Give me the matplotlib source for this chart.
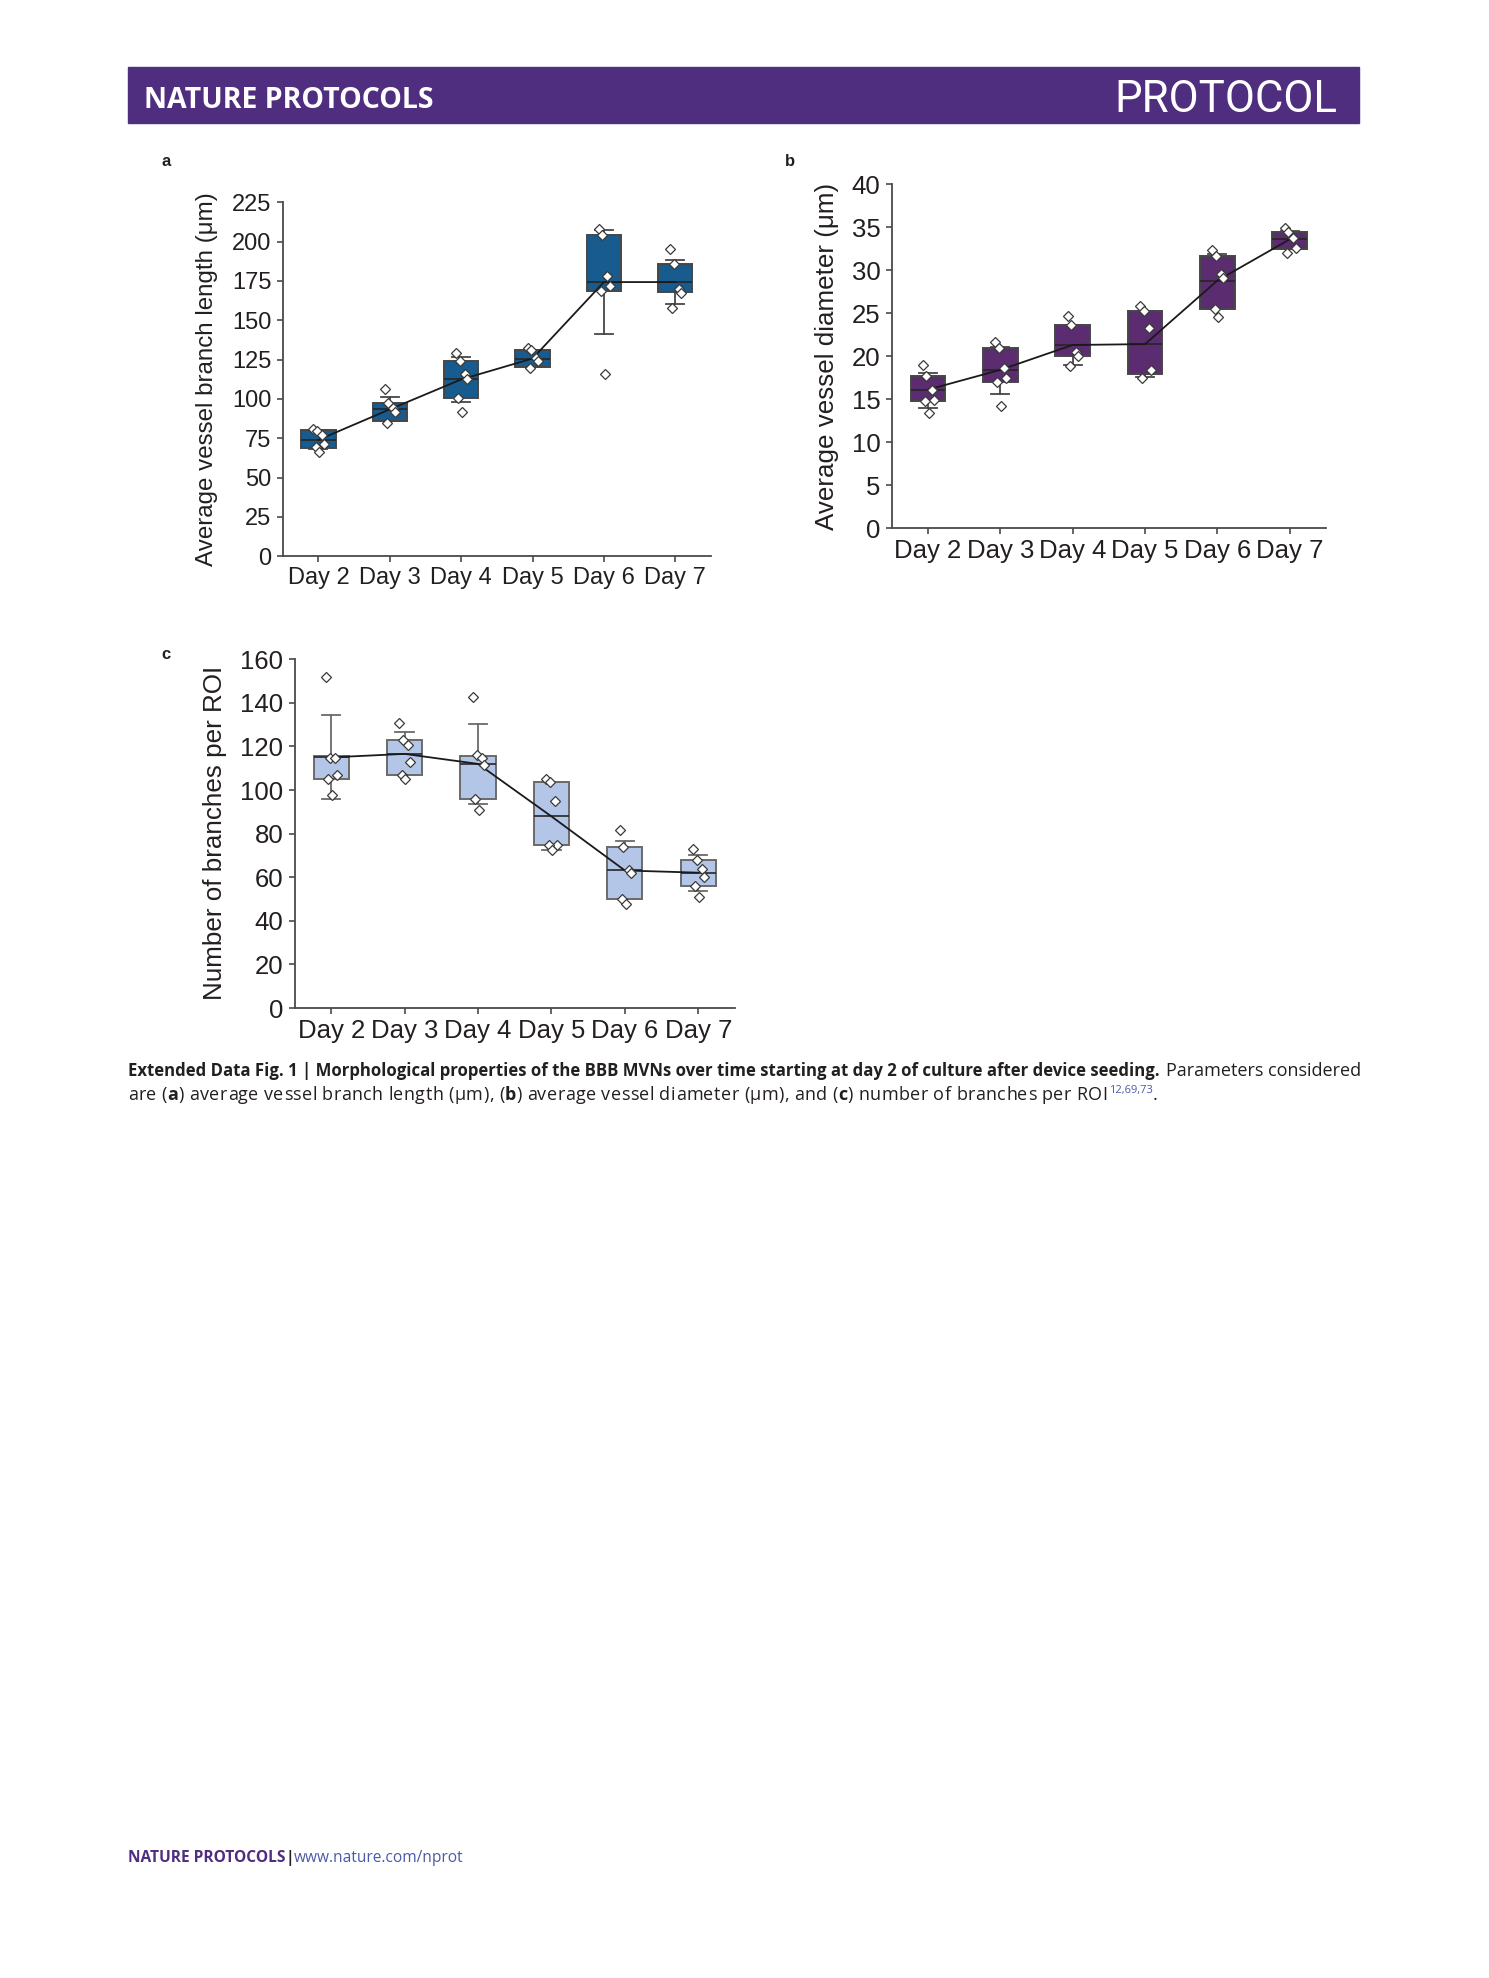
import matplotlib
matplotlib.use('Agg')
import matplotlib.pyplot as plt
from matplotlib.patches import Rectangle

plt.rcParams['font.family'] = ['Liberation Sans', 'DejaVu Sans']

W, H = 1489, 1978

days = ['Day 2', 'Day 3', 'Day 4', 'Day 5', 'Day 6', 'Day 7']

# panel a - average vessel branch length (um)
len_q1 = [69.1, 86.0, 100.4, 120.4, 168.6, 167.8]
len_med = [74.0, 93.4, 112.4, 125.7, 174.3, 174.3]
len_q3 = [80.3, 97.2, 124.0, 131.4, 204.3, 186.0]
len_lo = [68.0, 86.0, 98.0, 120.4, 141.2, 160.6]
len_hi = [80.3, 101.0, 126.8, 131.4, 207.5, 188.5]
len_pts = [[80.7, 79.7, 76.9, 71.4, 69.3, 66.3],
           [106.1, 97.2, 94.5, 91.7, 84.9],
           [129.5, 124.0, 115.8, 112.8, 100.4, 91.5],
           [132.7, 131.4, 126.3, 124.2, 120.0],
           [207.9, 204.5, 177.9, 171.6, 168.6, 115.8],
           [195.5, 186.0, 169.9, 167.3, 158.0]]

# panel b - average vessel diameter (um)
dia_q1 = [14.8, 17.0, 20.0, 17.9, 25.5, 32.5]
dia_med = [16.1, 18.4, 21.3, 21.4, 28.8, 33.6]
dia_q3 = [17.7, 21.0, 23.6, 25.3, 31.6, 34.4]
dia_lo = [14.0, 15.6, 18.95, 17.6, 25.5, 32.5]
dia_hi = [18.0, 21.05, 23.6, 25.3, 31.9, 34.6]
dia_pts = [[19.0, 17.7, 16.1, 14.9, 14.8, 13.4],
           [21.7, 21.0, 18.6, 17.5, 17.0, 14.2],
           [24.7, 23.6, 20.5, 20.0, 18.9],
           [25.8, 25.25, 23.3, 18.4, 17.5],
           [32.4, 31.6, 29.6, 29.1, 25.5, 24.55],
           [34.9, 34.4, 33.7, 32.6, 31.95]]

# panel c - number of branches per ROI
br_q1 = [105.0, 106.9, 95.8, 75.0, 49.9, 55.9]
br_med = [115.0, 116.6, 112.0, 87.9, 63.1, 62.1]
br_q3 = [115.5, 123.0, 115.8, 103.8, 73.8, 67.8]
br_lo = [96.1, 106.9, 93.8, 72.5, 49.9, 53.9]
br_hi = [134.3, 126.6, 130.4, 103.8, 76.4, 70.1]
br_pts = [[151.8, 114.7, 114.7, 107.0, 104.9, 97.8],
          [130.9, 123.0, 120.9, 112.9, 107.0, 104.9],
          [142.9, 116.0, 114.7, 111.6, 95.8, 90.9],
          [104.9, 103.8, 94.9, 75.0, 75.0, 72.5],
          [81.8, 73.8, 63.1, 61.8, 49.9, 47.7],
          [72.8, 67.8, 63.9, 59.9, 55.9, 50.8]]

INK = '#231f20'
SPINE = '#4a4a4a'
PURPLE = '#4f2d7f'
LINK = '#4a5aa8'

fig = plt.figure(figsize=(W / 100, H / 100), dpi=100)
renderer = fig.canvas.get_renderer()


def px_axes(l, t, r, b):
    return fig.add_axes([l / W, 1 - b / H, (r - l) / W, (b - t) / H])


def panel(ax, q1, med, q3, lo, hi, pts, fill, edge, ymax, step, fs):
    stats = []
    for i in range(len(days)):
        stats.append(dict(q1=q1[i], med=med[i], q3=q3[i], whislo=lo[i], whishi=hi[i]))
    ax.bxp(stats, positions=range(len(days)), widths=0.48, capwidths=0.25,
           patch_artist=True, showfliers=False,
           boxprops=dict(facecolor=fill, edgecolor=edge, linewidth=1.4),
           medianprops=dict(color='#262626', linewidth=1.2),
           whiskerprops=dict(color=edge, linewidth=1.3),
           capprops=dict(color=edge, linewidth=1.3))
    ax.plot(range(len(days)), med, color='#1a1a1a', lw=1.3, zorder=4)
    jit = [-0.07, -0.02, 0.05, 0.08, -0.04, 0.01]
    for i, p in enumerate(pts):
        xs = [i + jit[k % len(jit)] for k in range(len(p))]
        ax.plot(xs, p, 'D', ms=4.6, mfc='white', mec='#3a3a3a', mew=0.9, zorder=5)
    ax.set_xlim(-0.5, 5.5)
    ax.set_ylim(0, ymax)
    ax.set_yticks(range(0, ymax + 1, step))
    ax.set_xticks(range(len(days)))
    ax.set_xticklabels(days)
    for s in ['top', 'right']:
        ax.spines[s].set_visible(False)
    for s in ['left', 'bottom']:
        ax.spines[s].set_color(SPINE)
        ax.spines[s].set_linewidth(1.3)
    ax.tick_params(direction='out', length=4, width=1.2, color=SPINE,
                   labelsize=fs, labelcolor=INK, pad=4)


ax_a = px_axes(282.7, 202.3, 711, 556.3)
panel(ax_a, len_q1, len_med, len_q3, len_lo, len_hi, len_pts,
      '#185b8e', '#464646', 225, 25, 17)
ax_b = px_axes(891.7, 184.3, 1326, 528)
panel(ax_b, dia_q1, dia_med, dia_q3, dia_lo, dia_hi, dia_pts,
      '#5b2c6f', '#464646', 40, 5, 18.5)
ax_c = px_axes(294.5, 659.3, 735, 1008)
panel(ax_c, br_q1, br_med, br_q3, br_lo, br_hi, br_pts,
      '#b4c6e7', '#6a6a6a', 160, 20, 18.5)

# y labels
fig.text(207 / W, 1 - 379 / H, 'Average vessel branch length (\u03bcm)', rotation=90,
         ha='center', va='center', fontsize=17.4, color=INK)
fig.text(827 / W, 1 - 356 / H, 'Average vessel diameter (\u03bcm)', rotation=90,
         ha='center', va='center', fontsize=18.7, color=INK)
fig.text(215 / W, 1 - 833 / H, 'Number of branches per ROI', rotation=90,
         ha='center', va='center', fontsize=18.7, color=INK)

# panel letters
for lab, x, y in [('a', 166, 161), ('b', 790, 161), ('c', 166, 655)]:
    fig.text(x / W, 1 - y / H, lab, fontsize=12, fontweight='bold', color=INK,
             ha='center', va='center')

# header bar
fig.patches.append(Rectangle((128 / W, 1 - 123 / H), (1359 - 128) / W, 56 / H,
                             transform=fig.transFigure, color=PURPLE, zorder=0))


def width(t):
    return t.get_window_extent(renderer).width


def fit_width(t, target):
    t.set_fontsize(t.get_fontsize() * target / width(t))


t1 = fig.text(144 / W, 1 - 100 / H, 'NATURE PROTOCOLS', color='white', fontsize=18,
              fontweight='bold', family=['Open Sans', 'DejaVu Sans'], va='center')
fit_width(t1, 291)
t2 = fig.text(1337 / W, 1 - 100 / H, 'PROTOCOL', color='white', fontsize=30,
              family=['Roboto', 'DejaVu Sans'], va='center', ha='right')
fit_width(t2, 222)

CAP_FONT = ['Open Sans', 'DejaVu Sans']


def put(x, y, s, size, **kw):
    return fig.text(x / W, 1 - y / H, s, fontsize=size, va='baseline',
                    family=CAP_FONT, **kw)


# caption line 1: bold part then regular part
bold1 = ('Extended Data Fig. 1 | Morphological properties of the BBB MVNs over time '
         'starting at day 2 of culture after device seeding.')
reg1 = 'Parameters considered'
tb = put(128, 1076, bold1, 12, fontweight='bold', color=INK)
fit_width(tb, 1032)
x_reg = 128 + width(tb) + 6
tr = put(x_reg, 1076, reg1, 12, color=INK)
fit_width(tr, 1359 - x_reg)
cap_size = tr.get_fontsize()

# caption line 2, letter-spaced out to the measured line length
line2 = [('are (', {}), ('a', dict(fontweight='bold')),
         (') average vessel branch length (\u03bcm), (', {}),
         ('b', dict(fontweight='bold')), (') average vessel diameter (\u03bcm), and (', {}),
         ('c', dict(fontweight='bold')), (') number of branches per ROI', {})]
chars = [(ch, kw) for s, kw in line2 for ch in s]
widths = []
for ch, kw in chars:
    if ch == ' ':
        t = put(0, 0, 'n n', cap_size, color=INK)
        w = width(t)
        t.remove()
        t = put(0, 0, 'nn', cap_size, color=INK)
        w -= width(t)
    else:
        t = put(0, 0, ch, cap_size, color=INK, **kw)
        w = width(t)
    t.remove()
    widths.append(w)
sup_w = 40
track = (1148 - 128 - sup_w - sum(widths)) / len(chars)
x = 128
for (ch, kw), w in zip(chars, widths):
    if ch != ' ':
        put(x, 1100, ch, cap_size, color=INK, **kw)
    x += w + track
t = put(x + 1, 1093, '12,69,73', cap_size * 0.62, color=LINK)
x += width(t) + 1
put(x, 1100, '.', cap_size, color=INK)

# footer
x = 128
parts = [('NATURE PROTOCOLS', dict(fontweight='bold', color=PURPLE)),
         ('|', dict(fontweight='bold', color=INK)),
         ('www.nature.com/nprot', dict(color=LINK))]
for s, kw in parts:
    t = put(x, 1862, s, 11.2, **kw)
    x += width(t)

fig.savefig('out.png', dpi=100)
